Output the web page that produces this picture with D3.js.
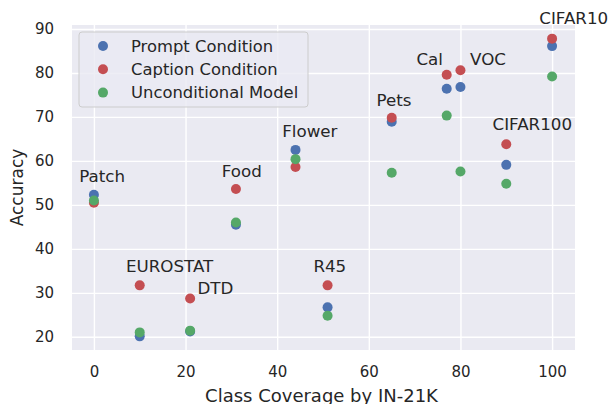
<!DOCTYPE html>
<html><head><meta charset="utf-8">
<script src="https://cdn.jsdelivr.net/npm/d3@7"></script>
<style>body{margin:0;background:#fff}svg{display:block}text{font-family:"DejaVu Sans",sans-serif;fill:#262626}</style>
</head><body><svg id="c" width="613" height="404"></svg>
<script>
const datasets = ["Patch","EUROSTAT","DTD","Food","Flower","R45","Pets","Cal","VOC","CIFAR100","CIFAR10"];
const coverage = [0, 10, 21, 31, 44, 51, 65, 77, 80, 90, 100];
const promptAcc = [52.3, 20.1, 21.2, 45.5, 62.5, 26.7, 68.9, 76.4, 76.8, 59.1, 86.1];
const captionAcc = [50.5, 31.7, 28.7, 53.6, 58.6, 31.7, 69.8, 79.6, 80.6, 63.8, 87.8];
const uncondAcc = [51.0, 21.0, 21.4, 46.0, 60.4, 24.8, 57.3, 70.3, 57.6, 54.8, 79.2];
const labelX = [-3.2, 7.0, 22.6, 27.9, 41.1, 47.9, 61.7, 70.4, 82.1, 87.0, 97.2];
const labelY = [55.3, 34.8, 29.8, 56.4, 65.4, 34.7, 72.5, 81.8, 81.8, 67.0, 91.1];
const xTicks = [0, 20, 40, 60, 80, 100];
const yTicks = [20, 30, 40, 50, 60, 70, 80, 90];
const seriesNames = ["Prompt Condition","Caption Condition","Unconditional Model"];

const series = [
  {name: seriesNames[0], values: promptAcc, color: "#4C72B0"},
  {name: seriesNames[1], values: captionAcc, color: "#C44E52"},
  {name: seriesNames[2], values: uncondAcc, color: "#55A868"}
];

const svg = d3.select("#c");
const L = 72, R = 575, T = 25, B = 350;
const x = d3.scaleLinear().domain([-5, 105]).range([71, 575]);
const y = d3.scaleLinear().domain([17.0, 90.9]).range([B, T]);

svg.append("rect").attr("x", L).attr("y", T).attr("width", R - L).attr("height", B - T).attr("fill", "#EAEAF2");

const gx = svg.append("g").attr("transform", `translate(0,${B})`)
  .call(d3.axisBottom(x).tickValues(xTicks).tickSize(-(B - T)).tickPadding(16));
const gy = svg.append("g").attr("transform", `translate(${L},0)`)
  .call(d3.axisLeft(y).tickValues(yTicks).tickSize(-(R - L)).tickPadding(18));
[gx, gy].forEach(g => {
  g.select(".domain").remove();
  g.selectAll(".tick line").attr("stroke", "#fff").attr("stroke-width", 1.4);
  g.selectAll(".tick text").attr("font-size", "15px").attr("fill", "#262626").style("font-family", "DejaVu Sans");
});

// points
series.forEach(s => {
  svg.append("g").selectAll("circle").data(coverage).join("circle")
    .attr("cx", d => x(d)).attr("cy", (d, i) => y(s.values[i]))
    .attr("r", 5).attr("fill", s.color);
});

// annotations
svg.append("g").selectAll("text").data(datasets).join("text")
  .attr("x", (d, i) => x(labelX[i])).attr("y", (d, i) => y(labelY[i]))
  .attr("font-size", "16.7px").text(d => d);

// axis labels
svg.append("text").attr("x", (L + R) / 2 - 2).attr("y", 401.5).attr("text-anchor", "middle")
  .attr("font-size", "18px").text("Class Coverage by IN-21K");
svg.append("text").attr("transform", `translate(22.5,${(T + B) / 2}) rotate(-90)`).attr("text-anchor", "middle")
  .attr("font-size", "17px").text("Accuracy");

// legend
const lg = svg.append("g");
lg.append("rect").attr("x", 79).attr("y", 32).attr("width", 229).attr("height", 75).attr("rx", 3)
  .attr("fill", "#EAEAF2").attr("fill-opacity", 0.8).attr("stroke", "#CCCCCC").attr("stroke-width", 1);
series.forEach((s, i) => {
  const cy = 46 + i * 23.3;
  lg.append("circle").attr("cx", 103).attr("cy", cy).attr("r", 5).attr("fill", s.color);
  lg.append("text").attr("x", 131).attr("y", cy + 5.5).attr("font-size", "16.4px").text(s.name);
});
</script></body></html>
